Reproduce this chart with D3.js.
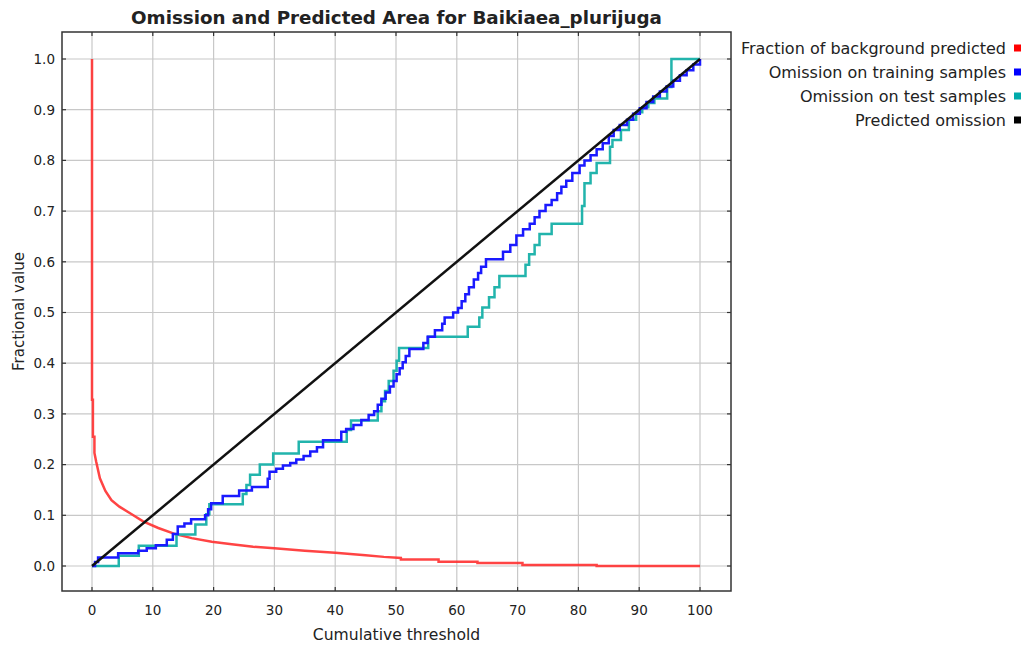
<!DOCTYPE html>
<html><head><meta charset="utf-8">
<script src="https://cdn.jsdelivr.net/npm/d3@7"></script>
<style>
body{margin:0;background:#fff;}
svg text{font-family:"DejaVu Sans",sans-serif;fill:#222;}
</style>
</head><body>
<svg id="c" width="1027" height="646"></svg>
<script>
const titleText = "Omission and Predicted Area for Baikiaea_plurijuga";
const xLabel = "Cumulative threshold";
const yLabel = "Fractional value";
const xTicks = [0,10,20,30,40,50,60,70,80,90,100];
const yTicks = [0,0.1,0.2,0.3,0.4,0.5,0.6,0.7,0.8,0.9,1.0];

const legendLabels = ["Fraction of background predicted","Omission on training samples","Omission on test samples","Predicted omission"];
const legendColors = ["#ff0000","#0000ff","#00aaaa","#000000"];

// Fraction of background predicted (red)
const bgX = [0,0,0.15,0.15,0.4,0.4,0.7,1.3,2.2,3.2,4.5,6.4,8.4,10.9,13.7,16.4,19.7,23,26.5,30,35,40,45,48,50.8,50.8,57,57,63.4,63.4,70.8,70.8,83,83,100];
const bgY = [1.0,0.328,0.328,0.255,0.255,0.223,0.205,0.173,0.148,0.13,0.117,0.103,0.088,0.075,0.063,0.055,0.048,0.043,0.038,0.035,0.030,0.026,0.021,0.018,0.016,0.013,0.013,0.0085,0.0085,0.0057,0.0057,0.002,0.002,0.0,0.0];

// Omission on training samples (blue), step values
const trainX = [0,0.5,1.0,4.3,7.6,9.0,10.5,12.3,13.3,14.1,15.2,16.3,18.6,19.1,19.6,21.5,24.2,26.3,28.9,29.2,30.3,31.4,32.6,33.6,34.8,35.9,37.0,38.0,41.0,41.8,43.0,44.3,45.5,46.4,47.0,47.6,48.3,49.0,49.6,50.1,50.6,51.1,51.6,52.2,54.5,55.2,56.4,57.6,58.0,59.4,60.2,60.8,61.4,62.0,62.8,63.5,64.0,64.8,67.6,68.8,69.8,70.9,72.0,72.8,73.6,74.6,75.6,76.5,77.2,78.0,79.0,80.2,81.0,82.0,83.0,84.0,85.0,85.8,86.8,88.0,89.0,90.1,91.2,92.3,93.4,94.5,95.6,96.7,97.8,98.9,100];
const trainY = [0,0.008,0.017,0.025,0.030,0.035,0.041,0.052,0.063,0.078,0.084,0.092,0.100,0.112,0.124,0.138,0.149,0.156,0.172,0.186,0.192,0.198,0.203,0.210,0.217,0.226,0.234,0.248,0.265,0.270,0.278,0.288,0.298,0.305,0.318,0.330,0.342,0.354,0.365,0.378,0.390,0.402,0.414,0.428,0.440,0.452,0.465,0.478,0.490,0.500,0.509,0.522,0.536,0.550,0.565,0.578,0.590,0.605,0.620,0.633,0.652,0.664,0.675,0.688,0.700,0.712,0.722,0.735,0.748,0.760,0.775,0.790,0.800,0.810,0.822,0.834,0.848,0.860,0.870,0.880,0.892,0.903,0.915,0.926,0.936,0.946,0.957,0.968,0.978,0.989,1.0];

// Omission on test samples (teal), step values
const testX = [0,4.4,7.7,13.9,17.0,18.8,19.3,24.8,25.4,26.0,27.6,29.8,34.0,41.9,42.6,47.0,47.6,48.2,48.8,49.6,50.1,50.5,55.3,61.8,63.7,64.2,65.3,66.2,67.0,71.3,71.9,72.8,73.6,75.6,80.6,81.0,82.0,83.0,85.2,85.6,87.0,88.3,89.5,90.5,91.5,92.5,94.6,95.3,100];
const testY = [0,0.020,0.040,0.062,0.082,0.102,0.122,0.142,0.160,0.180,0.200,0.222,0.245,0.268,0.287,0.305,0.325,0.345,0.365,0.385,0.405,0.430,0.452,0.472,0.490,0.510,0.530,0.550,0.572,0.594,0.615,0.633,0.655,0.675,0.710,0.755,0.775,0.795,0.827,0.840,0.860,0.880,0.895,0.905,0.913,0.922,0.945,1.0,1.0];

// Predicted omission (black)
const predX = [0,100];
const predY = [0,1];

const svg = d3.select("#c");
const L = 62, R = 731, T = 32, B = 591;
const x = d3.scaleLinear().domain([0,100]).range([92,700]);
const y = d3.scaleLinear().domain([0,1]).range([566,59]);

svg.append("rect").attr("x",0).attr("y",0).attr("width",1027).attr("height",646).attr("fill","#fff");

// grid
const g = svg.append("g");
g.selectAll("line.gx").data(xTicks).join("line")
  .attr("x1",d=>x(d)).attr("x2",d=>x(d)).attr("y1",T).attr("y2",B)
  .attr("stroke","#c8c8c8").attr("stroke-width",1.2);
g.selectAll("line.gy").data(yTicks).join("line")
  .attr("y1",d=>y(d)).attr("y2",d=>y(d)).attr("x1",L).attr("x2",R)
  .attr("stroke","#c8c8c8").attr("stroke-width",1.2);

// data lines
function pts(xs, ys){ return xs.map((v,i)=>[v, ys[i]]); }
const lineLin = d3.line().x(d=>x(d[0])).y(d=>y(d[1]));
const lineStep = d3.line().x(d=>x(d[0])).y(d=>y(d[1])).curve(d3.curveStepAfter);

svg.append("path").attr("d", lineLin(pts(bgX,bgY))).attr("fill","none")
  .attr("stroke","#ff3030").attr("stroke-width",2.5).attr("stroke-opacity",0.9);
svg.append("path").attr("d", lineStep(pts(testX,testY))).attr("fill","none")
  .attr("stroke","#22b4ac").attr("stroke-width",2.5);
svg.append("path").attr("d", lineStep(pts(trainX,trainY))).attr("fill","none")
  .attr("stroke","#1a1aff").attr("stroke-width",2.5);
svg.append("path").attr("d", lineLin(pts(predX,predY))).attr("fill","none")
  .attr("stroke","#111").attr("stroke-width",2.5);

// border and inner ticks
svg.append("rect").attr("x",L).attr("y",T).attr("width",R-L).attr("height",B-T)
  .attr("fill","none").attr("stroke","#333").attr("stroke-width",1.5);
const tk = svg.append("g").attr("stroke","#333").attr("stroke-width",1.2);
xTicks.forEach(d=>{
  tk.append("line").attr("x1",x(d)).attr("x2",x(d)).attr("y1",B).attr("y2",B-4);
  tk.append("line").attr("x1",x(d)).attr("x2",x(d)).attr("y1",T).attr("y2",T+4);
});
yTicks.forEach(d=>{
  tk.append("line").attr("y1",y(d)).attr("y2",y(d)).attr("x1",L).attr("x2",L+4);
  tk.append("line").attr("y1",y(d)).attr("y2",y(d)).attr("x1",R).attr("x2",R-4);
});

// tick labels
svg.append("g").selectAll("text").data(yTicks).join("text")
  .attr("x",55).attr("y",d=>y(d)).attr("dy","0.36em").attr("text-anchor","end")
  .attr("font-size",13.5).text(d=>d3.format(".1f")(d));
svg.append("g").selectAll("text").data(xTicks).join("text")
  .attr("x",d=>x(d)).attr("y",615).attr("text-anchor","middle")
  .attr("font-size",13.5).text(d=>d);

// axis labels
svg.append("text").attr("x",(L+R)/2).attr("y",640).attr("text-anchor","middle")
  .attr("font-size",15.6).text(xLabel);
svg.append("text").attr("transform",`translate(24,${(T+B)/2}) rotate(-90)`)
  .attr("text-anchor","middle").attr("font-size",15).text(yLabel);

// title
svg.append("text").attr("x",(L+R)/2).attr("y",24).attr("text-anchor","middle")
  .attr("font-size",18.3).attr("font-weight","bold").text(titleText);

// legend
const lg = svg.append("g");
legendLabels.forEach((t,i)=>{
  const cy = 48 + i*24;
  lg.append("text").attr("x",1006).attr("y",cy).attr("dy","0.36em").attr("text-anchor","end")
    .attr("font-size",16).text(t);
  lg.append("rect").attr("x",1014).attr("y",cy-3.5).attr("width",7).attr("height",7).attr("fill",legendColors[i]);
});
</script>
</body></html>
